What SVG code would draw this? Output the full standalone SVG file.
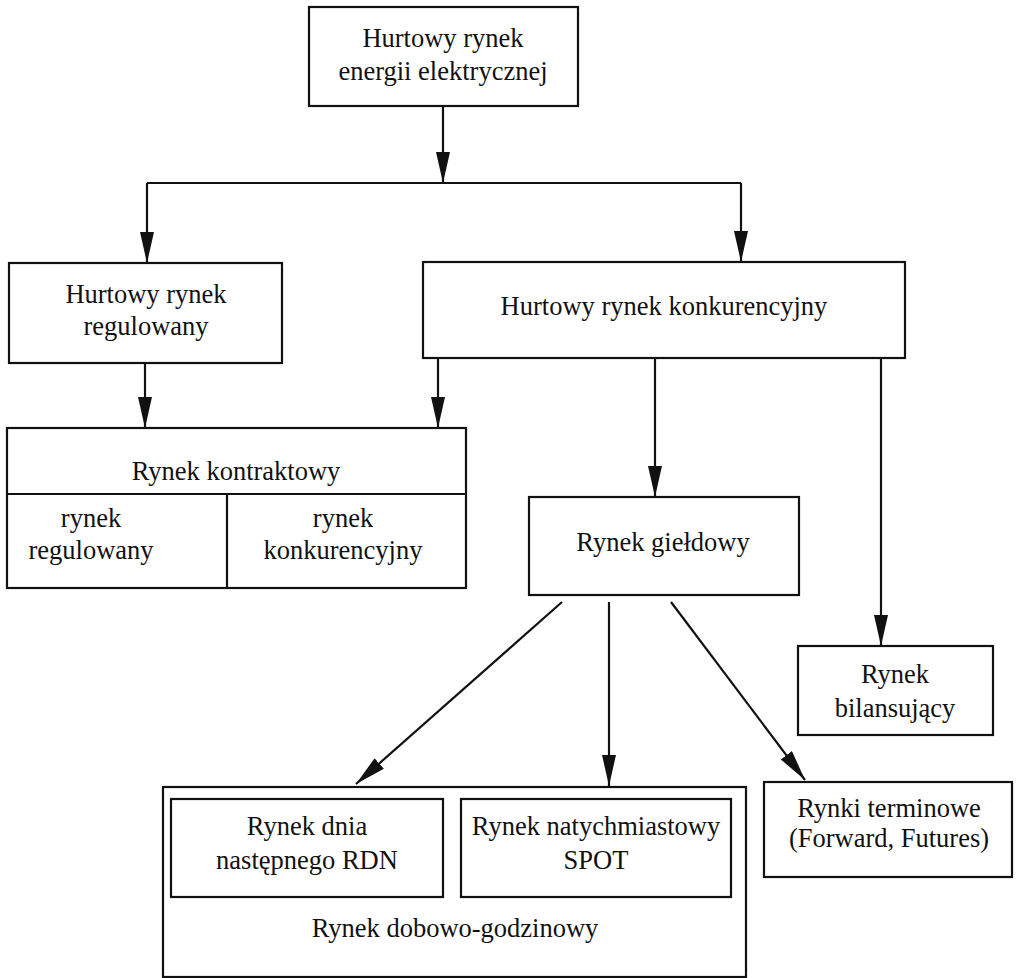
<svg xmlns="http://www.w3.org/2000/svg" width="1017" height="978" viewBox="0 0 1017 978">
  <style>
    .box { fill: #fff; stroke: #111; stroke-width: 2.2; }
    .div { fill: none; stroke: #111; stroke-width: 2.2; }
    .lbl { font-family: "Liberation Serif", "Times New Roman", serif; font-size: 26.5px; fill: #111; text-anchor: middle; }
    .edge { fill: none; stroke: #111; stroke-width: 2.2; }
    .arr { marker-end: url(#head); }
  </style>
  <defs>
    <marker id="head" markerUnits="userSpaceOnUse" markerWidth="32" markerHeight="16" refX="31" refY="7" orient="auto">
      <path d="M0,0 L31,7 L0,14 z" fill="#111"/>
    </marker>
  </defs>
  <rect width="1017" height="978" fill="#fff"/>

  <!-- connectors -->
  <g id="connectors">
    <line class="edge arr" x1="443" y1="106" x2="443" y2="183"/>
    <line class="edge" x1="147" y1="183" x2="741" y2="183"/>
    <line class="edge arr" x1="147" y1="183" x2="147" y2="263"/>
    <line class="edge arr" x1="741" y1="183" x2="741" y2="262"/>
    <line class="edge arr" x1="145" y1="363" x2="145" y2="428"/>
    <line class="edge arr" x1="438" y1="358" x2="438" y2="428"/>
    <line class="edge arr" x1="655" y1="358" x2="655" y2="497"/>
    <line class="edge arr" x1="881" y1="358" x2="881" y2="646"/>
    <line class="edge arr" x1="562" y1="602" x2="356" y2="784"/>
    <line class="edge arr" x1="609" y1="602" x2="609" y2="786"/>
    <line class="edge arr" x1="671" y1="602" x2="805" y2="780"/>
  </g>

  <g id="hurtowy-rynek">
    <rect class="box" x="309" y="7" width="269" height="99"/>
    <text class="lbl" x="443" y="47">Hurtowy rynek</text>
    <text class="lbl" x="443" y="80">energii elektrycznej</text>
  </g>

  <g id="rynek-regulowany">
    <rect class="box" x="9" y="263" width="273" height="100"/>
    <text class="lbl" x="146" y="303">Hurtowy rynek</text>
    <text class="lbl" x="146" y="335">regulowany</text>
  </g>

  <g id="rynek-konkurencyjny">
    <rect class="box" x="423" y="262" width="482" height="96"/>
    <text class="lbl" x="664" y="315">Hurtowy rynek konkurencyjny</text>
  </g>

  <g id="rynek-kontraktowy">
    <rect class="box" x="7" y="428" width="459" height="160"/>
    <line class="div" x1="7" y1="494" x2="466" y2="494"/>
    <line class="div" x1="227" y1="494" x2="227" y2="588"/>
    <text class="lbl" x="236" y="480">Rynek kontraktowy</text>
    <text class="lbl" x="91" y="527">rynek</text>
    <text class="lbl" x="91" y="559">regulowany</text>
    <text class="lbl" x="343" y="527">rynek</text>
    <text class="lbl" x="343" y="559">konkurencyjny</text>
  </g>

  <g id="rynek-gieldowy">
    <rect class="box" x="529" y="497" width="270" height="98"/>
    <text class="lbl" x="663" y="551">Rynek giełdowy</text>
  </g>

  <g id="rynek-bilansujacy">
    <rect class="box" x="798" y="646" width="195" height="89"/>
    <text class="lbl" x="895" y="683">Rynek</text>
    <text class="lbl" x="895" y="717">bilansujący</text>
  </g>

  <g id="rynki-terminowe">
    <rect class="box" x="764" y="782" width="248" height="95"/>
    <text class="lbl" x="889" y="817">Rynki terminowe</text>
    <text class="lbl" x="889" y="847">(Forward, Futures)</text>
  </g>

  <g id="rynek-dobowo-godzinowy">
    <rect class="box" x="163" y="787" width="583" height="190"/>
    <text class="lbl" x="455" y="937">Rynek dobowo-godzinowy</text>
  </g>

  <g id="rynek-rdn">
    <rect class="box" x="171" y="799" width="272" height="98"/>
    <text class="lbl" x="307" y="835">Rynek dnia</text>
    <text class="lbl" x="307" y="869">następnego RDN</text>
  </g>

  <g id="rynek-spot">
    <rect class="box" x="461" y="799" width="270" height="98"/>
    <text class="lbl" x="596" y="835">Rynek natychmiastowy</text>
    <text class="lbl" x="596" y="869">SPOT</text>
  </g>
</svg>
